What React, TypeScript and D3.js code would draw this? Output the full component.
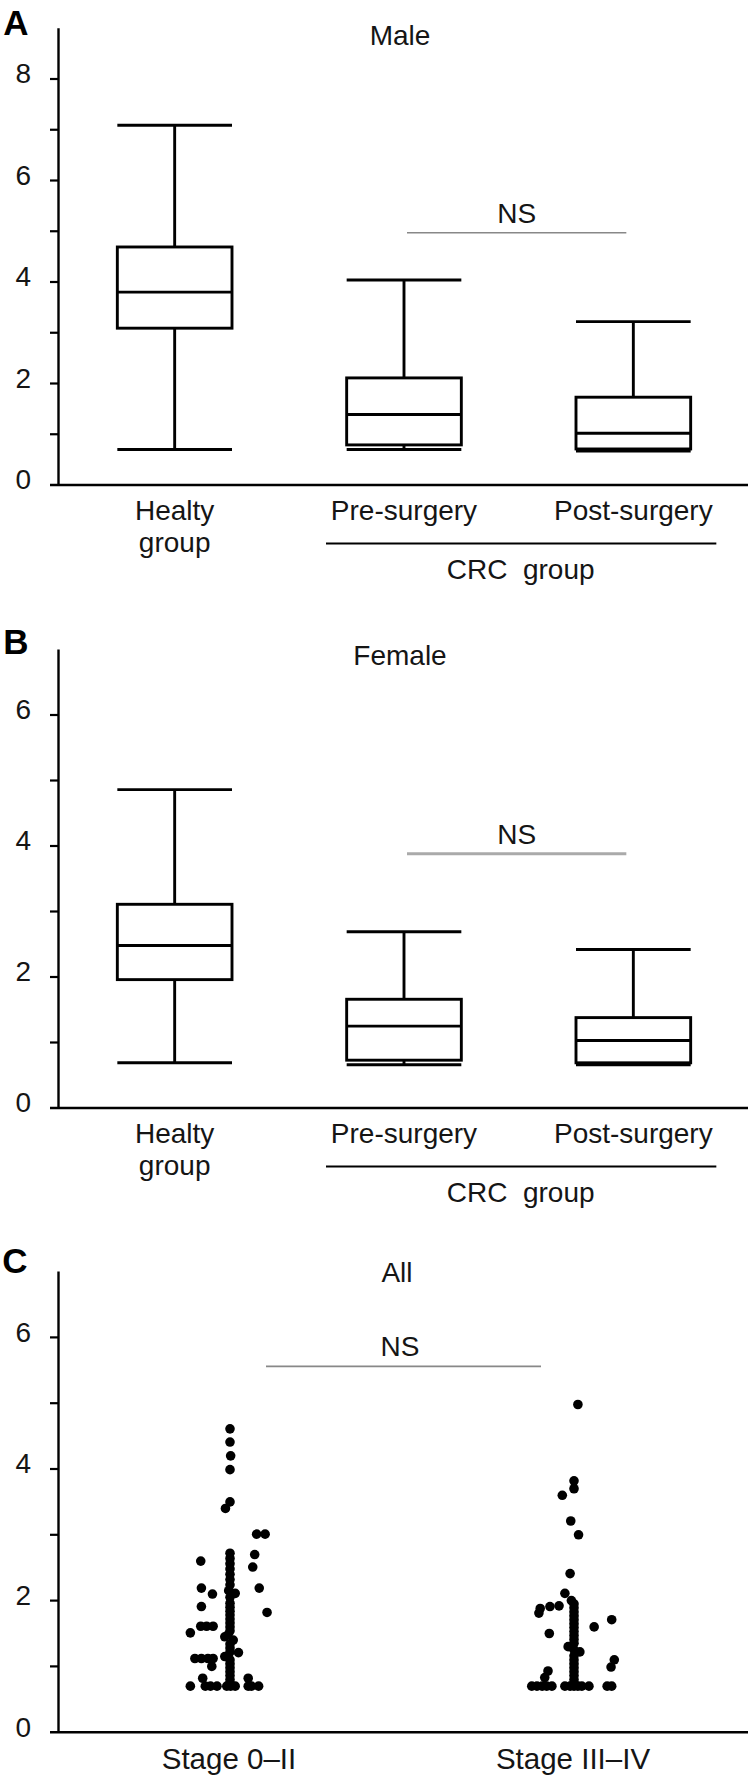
import React from "react";
import * as d3 from "d3";

const W = 751;
const H = 1776;
const FONT = "'Liberation Sans', Arial, Helvetica, sans-serif";

// ---------- data ----------
const boxCategories = ["Healty", "Pre-surgery", "Post-surgery"];
const boxLabelLines = [["Healty", "group"], ["Pre-surgery"], ["Post-surgery"]];
const crcLabel = "CRC  group";

// [min, q1, median, q3, max]
const maleStats = [
  [0.7, 3.09, 3.8, 4.69, 7.09],
  [0.7, 0.79, 1.39, 2.11, 4.04],
  [0.67, 0.71, 1.02, 1.73, 3.22],
];
const femaleStats = [
  [0.69, 1.96, 2.48, 3.11, 4.86],
  [0.66, 0.73, 1.25, 1.66, 2.69],
  [0.66, 0.69, 1.03, 1.38, 2.42],
];

const maleMajorTicks = [0, 2, 4, 6, 8];
const maleMinorTicks = [1, 3, 5, 7];
const maleMax = 9;
const femaleMajorTicks = [0, 2, 4, 6];
const femaleMinorTicks = [1, 3, 5];
const femaleMax = 7;
const allMajorTicks = [0, 2, 4, 6];
const allMinorTicks = [1, 3, 5];
const allMax = 7;

const maleNS = 4.97;
const femaleNS = 3.88;
const allNS = 5.56;

const stageCategories = ["Stage 0–II", "Stage III–IV"];

// [value, jitter slot]
const stage0to2 = [
  [4.61, 0], [4.41, 0], [4.2, 0.1], [3.99, 0], [3.5, 0], [3.4, -0.7],
  [3.01, 4.1], [3.01, 5.4], [2.7, 3.8], [2.6, -4.5], [2.51, 3.5],
  [2.19, -4.4], [2.1, -2.7], [2.19, 4.5], [1.91, -4.4], [1.82, 5.7],
  [1.61, -4.5], [1.61, -3.6], [1.61, -2.6], [1.51, -6.1], [1.21, 1.3],
  [1.12, -5.4], [1.12, -4.4], [1.12, -3.4], [1.12, -2.6], [1.0, -2.8],
  [0.82, -4.2], [0.82, 2.8],
  [0.7, -6.1], [0.7, -3.8], [0.7, -3.0], [0.7, -2.0], [0.7, -0.5], [0.7, 0.1],
  [0.7, 0.8], [0.7, 2.8], [0.7, 3.3], [0.7, 4.4],
  [2.72, 0], [2.64, 0], [2.56, 0], [2.48, 0], [2.4, 0], [2.32, 0], [2.24, 0],
  [2.15, -0.2], [2.11, 0.8], [2.05, 0], [1.96, 0], [1.9, 0], [1.84, 0], [1.78, 0],
  [1.72, 0], [1.66, 0], [1.6, 0], [1.54, 0], [1.48, -0.3], [1.45, -0.8], [1.4, 0.5],
  [1.34, 0], [1.28, 0], [1.22, 0], [1.15, -0.8], [1.1, 0], [1.04, 0], [0.98, 0],
  [0.92, 0], [0.86, 0], [0.8, 0], [0.75, 0],
];

const stage3to4 = [
  [4.98, 0.6], [3.82, 0], [3.7, 0], [3.6, -1.8], [3.21, -0.5], [3.0, 0.7],
  [2.41, -0.6], [2.11, -1.4], [1.92, -2.3], [1.91, -3.7], [1.88, -5.2], [1.81, -5.4],
  [1.71, 5.8], [1.6, 3.1], [1.5, -3.8], [1.1, 6.2], [0.99, 5.7], [0.93, -4.0], [0.83, -4.5],
  [0.7, -6.5], [0.7, -5.7], [0.7, -4.9], [0.7, -4.2], [0.7, -3.4], [0.7, -1.4], [0.7, -0.6],
  [0.7, 0], [0.7, 0.6], [0.7, 1.2], [0.7, 2.3], [0.7, 5.1], [0.7, 5.8],
  [2.0, -0.4], [1.95, 0], [1.89, 0], [1.83, 0], [1.77, 0], [1.71, 0], [1.65, 0],
  [1.59, 0], [1.53, 0], [1.47, 0], [1.41, 0], [1.35, 0], [1.3, -0.9], [1.25, 0],
  [1.22, 0.9], [1.16, 0], [1.1, 0], [1.04, 0], [0.98, 0], [0.92, 0], [0.86, 0],
  [0.8, 0], [0.75, 0],
];

// ---------- layout ----------
const AXIS_X = 58.5;
const TICK_LEN = 8.5;
const AXIS_RIGHT = 748;
const TEXT = "#151515";

type AxisProps = {
  y: d3.ScaleLinear<number, number>;
  major: number[];
  minor: number[];
  yMax: number;
};

function Axes({ y, major, minor, yMax }: AxisProps) {
  const y0 = y(0);
  return (
    <g>
      <line x1={AXIS_X} x2={AXIS_X} y1={y(yMax)} y2={y0} stroke="#000" strokeWidth={2.4} />
      <line x1={AXIS_X - TICK_LEN} x2={AXIS_RIGHT} y1={y0} y2={y0} stroke="#000" strokeWidth={2.6} />
      {[...major, ...minor].filter((t) => t !== 0).map((t) => (
        <line key={"t" + t} x1={AXIS_X - TICK_LEN} x2={AXIS_X} y1={y(t)} y2={y(t)} stroke="#000" strokeWidth={2.2} />
      ))}
      {major.map((t) => (
        <text key={"l" + t} x={31} y={y(t) - 3} textAnchor="end" dominantBaseline="middle"
          fontSize={28} fontFamily={FONT} fill={TEXT}>{t}</text>
      ))}
    </g>
  );
}

type BoxPanelProps = {
  stats: number[][];
  zeroY: number;
  unit: number;
  yMax: number;
  major: number[];
  minor: number[];
  title: string;
  letter: string;
  letterY: number;
  titleY: number;
  ns: number;
  nsStroke: string;
  nsWidth: number;
};

function BoxPanel(p: BoxPanelProps) {
  const y = d3.scaleLinear().domain([0, p.yMax]).range([p.zeroY, p.zeroY - p.unit * p.yMax]);
  const x = d3.scaleBand().domain(boxCategories).range([60, 748]);
  const bw = x.bandwidth();
  const half = bw * 0.25;
  const cx = (c: string) => (x(c) as number) + bw / 2;
  const y0 = y(0);
  const nsY = y(p.ns);
  const nsX1 = cx(boxCategories[1]) + 3;
  const nsX2 = cx(boxCategories[2]) - 7;
  return (
    <g>
      <text x={16} y={p.letterY} textAnchor="middle" fontSize={35} fontWeight="bold" fontFamily={FONT} fill="#000">{p.letter}</text>
      <text x={400} y={p.titleY} textAnchor="middle" fontSize={28} fontFamily={FONT} fill={TEXT}>{p.title}</text>
      <Axes y={y} major={p.major} minor={p.minor} yMax={p.yMax} />
      {boxCategories.map((c, i) => {
        const [mn, q1, md, q3, mx] = p.stats[i];
        const c0 = cx(c);
        return (
          <g key={c} stroke="#000" strokeWidth={2.9} fill="none">
            <line x1={c0} x2={c0} y1={y(mx)} y2={y(q3)} />
            <line x1={c0} x2={c0} y1={y(q1)} y2={y(mn)} />
            <line x1={c0 - half} x2={c0 + half} y1={y(mx)} y2={y(mx)} />
            <line x1={c0 - half} x2={c0 + half} y1={y(mn)} y2={y(mn)} />
            <rect x={c0 - half} y={y(q3)} width={half * 2} height={y(q1) - y(q3)} fill="#fff" />
            <line x1={c0 - half} x2={c0 + half} y1={y(md)} y2={y(md)} />
          </g>
        );
      })}
      <line x1={nsX1} x2={nsX2} y1={nsY} y2={nsY} stroke={p.nsStroke} strokeWidth={p.nsWidth} />
      <text x={(nsX1 + nsX2) / 2} y={nsY - 10} textAnchor="middle" fontSize={28} fontFamily={FONT} fill={TEXT}>NS</text>
      {boxCategories.map((c, i) => (
        <text key={"xl" + c} x={cx(c)} y={y0 + 35} textAnchor="middle" fontSize={28} fontFamily={FONT} fill={TEXT}>
          {boxLabelLines[i].map((s, k) => (
            <tspan key={k} x={cx(c)} dy={k === 0 ? 0 : 32}>{s}</tspan>
          ))}
        </text>
      ))}
      <line x1={cx(boxCategories[1]) - 78} x2={cx(boxCategories[2]) + 83} y1={y0 + 58.5} y2={y0 + 58.5} stroke="#000" strokeWidth={2.2} />
      <text x={(cx(boxCategories[1]) + cx(boxCategories[2])) / 2 + 2} y={y0 + 94} textAnchor="middle" fontSize={28}
        fontFamily={FONT} fill={TEXT} style={{ whiteSpace: "pre" }}>{crcLabel}</text>
    </g>
  );
}

function DotPanel() {
  const zeroY = 1732.2;
  const unit = 65.8;
  const y = d3.scaleLinear().domain([0, allMax]).range([zeroY, zeroY - unit * allMax]);
  const x = d3.scaleBand().domain(stageCategories).range([58, 746]);
  const bw = x.bandwidth();
  const cx = (c: string) => (x(c) as number) + bw / 2;
  const jitter = d3.scaleLinear().domain([0, 1]).range([0, 6.5]);
  const groups = [stage0to2, stage3to4];
  const y0 = y(0);
  const nsY = y(allNS);
  const nsX1 = cx(stageCategories[0]) + 36;
  const nsX2 = cx(stageCategories[1]) - 33;
  return (
    <g>
      <text x={15} y={1273} textAnchor="middle" fontSize={35} fontWeight="bold" fontFamily={FONT} fill="#000">C</text>
      <text x={397} y={1282} textAnchor="middle" fontSize={28} fontFamily={FONT} fill={TEXT}>All</text>
      <Axes y={y} major={allMajorTicks} minor={allMinorTicks} yMax={allMax} />
      <line x1={nsX1} x2={nsX2} y1={nsY} y2={nsY} stroke="#888" strokeWidth={1.6} />
      <text x={400} y={nsY - 10} textAnchor="middle" fontSize={28} fontFamily={FONT} fill={TEXT}>NS</text>
      {groups.map((g, gi) => (
        <g key={gi} fill="#000">
          {g.map(([v, j], k) => (
            <circle key={k} cx={cx(stageCategories[gi]) + jitter(j)} cy={y(v)} r={4.8} />
          ))}
        </g>
      ))}
      {stageCategories.map((c) => (
        <text key={c} x={cx(c) - 1} y={y0 + 37} textAnchor="middle" fontSize={29.5} fontFamily={FONT} fill={TEXT}>{c}</text>
      ))}
    </g>
  );
}

export default function App() {
  return (
    <svg width={W} height={H} viewBox={`0 0 ${W} ${H}`}
      style={{ position: "absolute", left: 0, top: 0, background: "#fff" }}>
      <rect width={W} height={H} fill="#fff" />
      <BoxPanel stats={maleStats} zeroY={485} unit={50.75} yMax={maleMax} major={maleMajorTicks} minor={maleMinorTicks}
        title="Male" letter="A" letterY={35} titleY={45} ns={maleNS} nsStroke="#888" nsWidth={1.6} />
      <BoxPanel stats={femaleStats} zeroY={1108} unit={65.5} yMax={femaleMax} major={femaleMajorTicks} minor={femaleMinorTicks}
        title="Female" letter="B" letterY={654} titleY={665} ns={femaleNS} nsStroke="#aaa" nsWidth={3} />
      <DotPanel />
    </svg>
  );
}
